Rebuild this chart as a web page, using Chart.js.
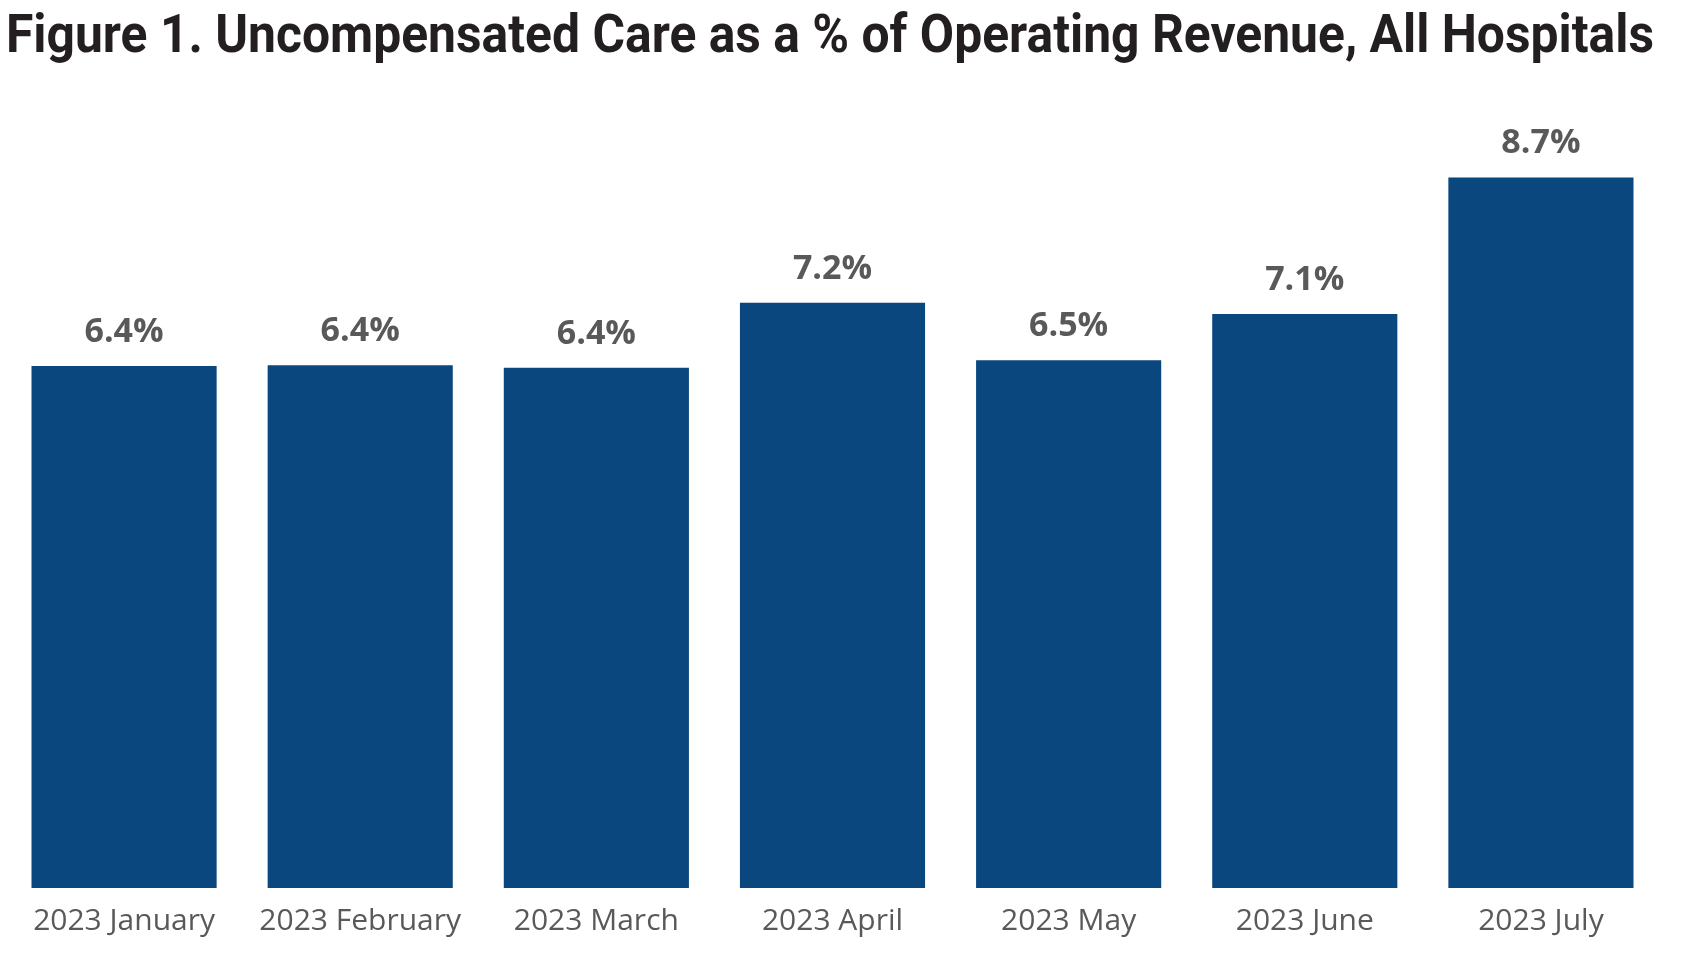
<!DOCTYPE html>
<html>
<head>
<meta charset="utf-8">
<title>Uncompensated Care as a % of Operating Revenue</title>
<script src="https://cdn.jsdelivr.net/npm/chart.js@4.4.1/dist/chart.umd.min.js"></script>
<style>
  html, body { margin: 0; padding: 0; background: #fff; }
  #wrap { width: 1697px; height: 961px; position: relative; }
</style>
</head>
<body>
<div id="wrap"><canvas id="ucChart"></canvas></div>
<script>
const months = ['2023 January', '2023 February', '2023 March', '2023 April', '2023 May', '2023 June', '2023 July'];
const ucPct = [6.42, 6.43, 6.40, 7.20, 6.49, 7.06, 8.74];

const titleText = 'Figure 1. Uncompensated Care as a % of Operating Revenue, All Hospitals';
const titleFamily = 'Roboto, "Liberation Sans", sans-serif';
const labelFamily = '"Open Sans", "Noto Sans", sans-serif';

// the original title is a condensed DIN face; squeeze Roboto Bold to the same width
const condensedTitle = {
  id: 'condensedTitle',
  beforeDraw(chart) {
    const ctx = chart.ctx;
    ctx.save();
    ctx.font = 'bold 54px ' + titleFamily;
    const w = ctx.measureText(titleText).width;
    ctx.translate(6, 52);
    ctx.scale(1648 / w, 1);
    ctx.fillStyle = '#231F20';
    ctx.textAlign = 'left';
    ctx.textBaseline = 'alphabetic';
    ctx.fillText(titleText, 0, 0);
    ctx.restore();
  }
};

// value labels above bars
const barValueLabels = {
  id: 'barValueLabels',
  afterDatasetsDraw(chart) {
    const ctx = chart.ctx;
    const meta = chart.getDatasetMeta(0);
    ctx.save();
    ctx.font = 'bold 34px ' + labelFamily;
    ctx.fillStyle = '#595959';
    ctx.textAlign = 'center';
    ctx.textBaseline = 'alphabetic';
    meta.data.forEach((bar, i) => {
      ctx.fillText(ucPct[i].toFixed(1) + '%', bar.x, bar.y - 24);
    });
    ctx.restore();
  }
};

const chart = new Chart(document.getElementById('ucChart'), {
  type: 'bar',
  data: {
    labels: months,
    datasets: [
      {
        label: 'Uncompensated care %',
        data: ucPct,
        backgroundColor: '#0A477F',
        borderWidth: 0,
        barPercentage: 0.784,
        categoryPercentage: 1.0,
      },
    ],
  },
  options: {
    responsive: true,
    maintainAspectRatio: false,
    animation: false,
    layout: {
      padding: { left: 6, right: 38, top: 75, bottom: 7 },
    },
    plugins: {
      legend: { display: false },
      tooltip: { enabled: false },
      title: { display: false },
    },
    scales: {
      x: {
        grid: { display: false, drawTicks: false, tickLength: 0 },
        border: { display: false },
        ticks: {
          color: '#595959',
          padding: 15,
          font: { family: labelFamily, size: 30, lineHeight: 1.2 },
        },
      },
      y: {
        display: false,
        min: 0,
        max: 10,
      },
    },
  },
  plugins: [condensedTitle, barValueLabels],
});
</script>
</body>
</html>
